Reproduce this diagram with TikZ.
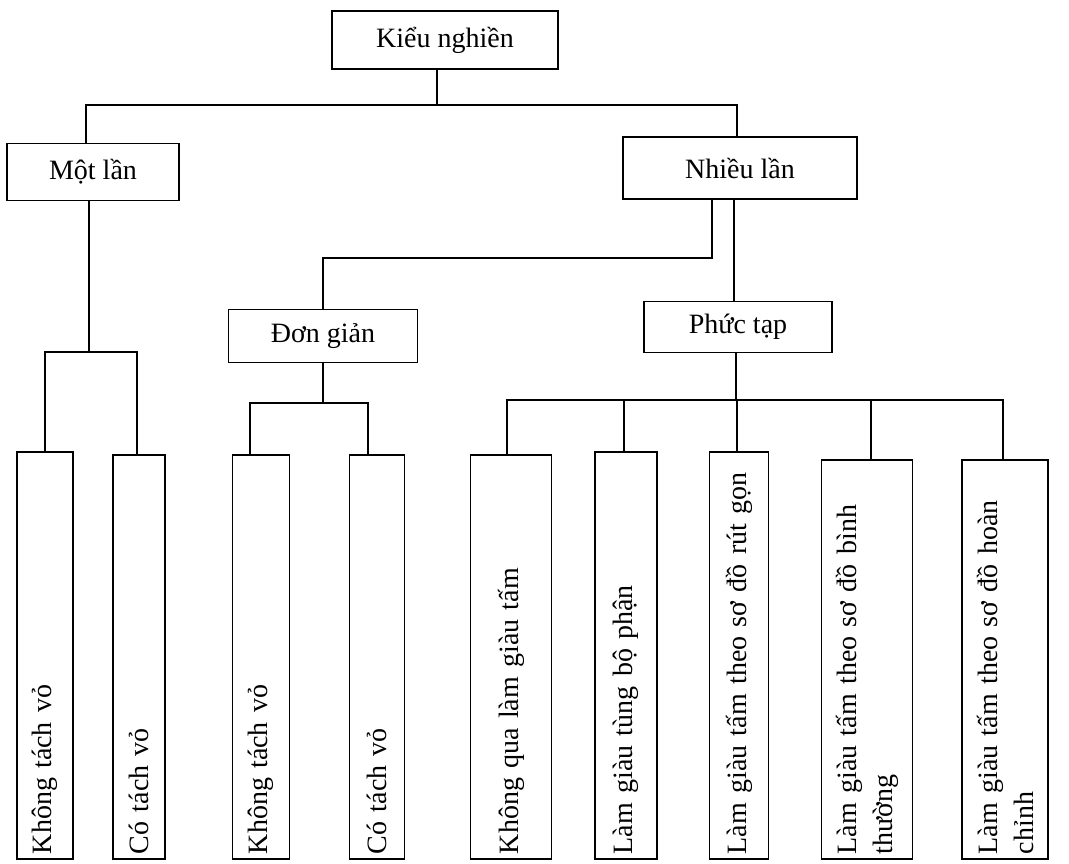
\documentclass[tikz,border=0pt]{standalone}
\usepackage{fontspec}
\setmainfont{Liberation Serif}
\begin{document}
\begin{tikzpicture}[x=1pt, y=-1pt, line width=1.6pt,
    box/.style={draw, font=\fontsize{28}{36}\selectfont},
    leaf/.style={draw, rotate=90, anchor=west, align=left, inner xsep=5pt, inner ysep=0pt,
      font=\fontsize{28}{36}\selectfont}]
  \useasboundingbox (0,0) rectangle (1069,863);

  % upper levels
  \node[box, minimum width=226pt, minimum height=58pt] (root) at (445,40) {Kiểu nghiền};
  \node[box, minimum width=172pt, minimum height=57pt] (mot) at (93,172) {Một lần};
  \node[box, minimum width=234pt, minimum height=62pt] (nhieu) at (740,168) {Nhiều lần};
  \node[box, minimum width=189pt, minimum height=53pt] (don) at (323,336) {Đơn giản};
  \node[box, minimum width=188pt, minimum height=51pt] (phuc) at (738,327) {Phức tạp};

  % leaves, read from the bottom up
  \node[leaf, minimum height=56pt, text width=397pt] (l1) at (45,860) {Không tách vỏ};
  \node[leaf, minimum height=52pt, text width=394pt] (l2) at (139,860) {Có tách vỏ};
  \node[leaf, minimum height=57pt, text width=394pt] (l3) at (261,860) {Không tách vỏ};
  \node[leaf, minimum height=55pt, text width=394pt] (l4) at (377,860) {Có tách vỏ};
  \node[leaf, minimum height=81pt, text width=394pt] (l5) at (511,860) {Không qua làm giàu tấm\\ };
  \node[leaf, minimum height=62pt, text width=397pt] (l6) at (626,860) {Làm giàu tùng bộ phận};
  \node[leaf, minimum height=59pt, text width=397pt] (l7) at (739,860) {Làm giàu tấm theo sơ đồ rút gọn};
  \node[leaf, minimum height=91pt, text width=389pt] (l8) at (867,860) {Làm giàu tấm theo sơ đồ bình\\thường};
  \node[leaf, minimum height=86pt, text width=389pt] (l9) at (1005,860) {Làm giàu tấm theo sơ đồ hoàn\\chỉnh};

  \coordinate (bar0) at (0,105);
  \coordinate (bar1) at (0,352);
  \coordinate (bar2) at (0,403);
  \coordinate (bar3) at (0,400);
  \coordinate (bar4) at (0,258);

  % Kiểu nghiền
  \draw ([xshift=-8pt]root.south) -- ([xshift=-8pt]root.south |- bar0);
  \draw ([xshift=-7pt]mot.north) |- ([xshift=-3pt]nhieu.north |- bar0) -- ([xshift=-3pt]nhieu.north);

  % Một lần
  \draw ([xshift=-4pt]mot.south) -- ([xshift=-4pt]mot.south |- bar1);
  \draw (l1.east) |- ([xshift=-2pt]l2.east |- bar1) -- ([xshift=-2pt]l2.east);

  % Nhiều lần
  \draw ([xshift=-28pt]nhieu.south) |- (don.north |- bar4) -- (don.north);
  \draw ([xshift=-6pt]nhieu.south) -- ([xshift=-6pt]nhieu.south |- phuc.north);

  % Đơn giản
  \draw (don.south) -- (don.south |- bar2);
  \draw ([xshift=-11pt]l3.east) |- ([xshift=-9pt]l4.east |- bar2) -- ([xshift=-9pt]l4.east);

  % Phức tạp
  \draw ([xshift=-2pt]phuc.south) -- ([xshift=-2pt]phuc.south |- bar3);
  \draw ([xshift=-4pt]l5.east) |- ([xshift=-2pt]l9.east |- bar3) -- ([xshift=-2pt]l9.east);
  \foreach \n/\s in {l6/-2, l7/-2, l8/4}
    \draw ([xshift=\s pt]\n.east) -- ([xshift=\s pt]\n.east |- bar3);
\end{tikzpicture}
\end{document}
